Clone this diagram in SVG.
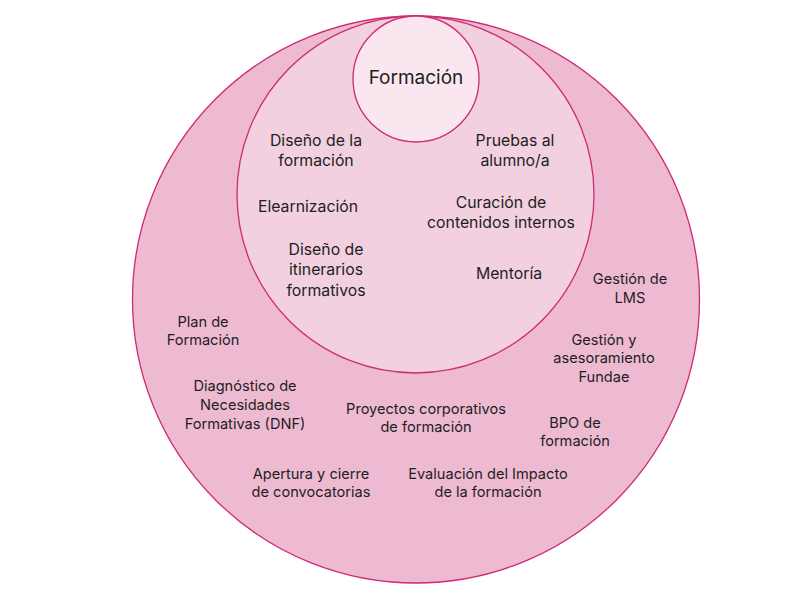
<svg xmlns="http://www.w3.org/2000/svg" width="800" height="600" viewBox="0 0 800 600">
  <style>
    .ring { stroke: #cf2a72; stroke-width: 1.3; }
    .outer { fill: #edbad2; }
    .middle { fill: #f3d0e0; }
    .inner { fill: #f9e6ee; }
    text { font-family: Inter, "Noto Sans", "Liberation Sans", sans-serif; fill: #1e1e1e; text-anchor: middle; }
    .t { font-size: 19px; }
    .m { font-size: 15.8px; }
    .o { font-size: 14.6px; }
  </style>
  <rect width="800" height="600" fill="#ffffff"/>
  <g id="circle-outer">
    <circle class="ring outer" cx="416" cy="299.5" r="283.5"/>
  </g>
  <g id="circle-middle">
    <circle class="ring middle" cx="415.5" cy="194.5" r="178.5"/>
  </g>
  <g id="circle-inner">
    <circle class="ring inner" cx="416" cy="79" r="63"/>
    <text class="t" x="416" y="83.5">Formación</text>
  </g>
  <g id="connectors"></g>
  <g id="middle-labels">
    <g id="diseno-formacion"><text class="m" x="316" y="146">Diseño de la</text><text class="m" x="316" y="166">formación</text></g>
    <g id="pruebas"><text class="m" x="515" y="146">Pruebas al</text><text class="m" x="515" y="166">alumno/a</text></g>
    <g id="elearnizacion"><text class="m" x="308" y="212">Elearnización</text></g>
    <g id="curacion"><text class="m" x="501" y="207.5">Curación de</text><text class="m" x="501" y="227.5">contenidos internos</text></g>
    <g id="itinerarios"><text class="m" x="326" y="254.5">Diseño de</text><text class="m" x="326" y="275">itinerarios</text><text class="m" x="326" y="295.5">formativos</text></g>
    <g id="mentoria"><text class="m" x="509" y="279">Mentoría</text></g>
  </g>
  <g id="outer-labels">
    <g id="lms"><text class="o" x="630" y="284">Gestión de</text><text class="o" x="630" y="303">LMS</text></g>
    <g id="fundae"><text class="o" x="604" y="345">Gestión y</text><text class="o" x="604" y="363">asesoramiento</text><text class="o" x="604" y="382">Fundae</text></g>
    <g id="plan"><text class="o" x="203" y="327">Plan de</text><text class="o" x="203" y="345">Formación</text></g>
    <g id="dnf"><text class="o" x="245" y="391">Diagnóstico de</text><text class="o" x="245" y="410">Necesidades</text><text class="o" x="245" y="428.5">Formativas (DNF)</text></g>
    <g id="proyectos"><text class="o" x="426" y="414">Proyectos corporativos</text><text class="o" x="426" y="432">de formación</text></g>
    <g id="bpo"><text class="o" x="575" y="428">BPO de</text><text class="o" x="575" y="446">formación</text></g>
    <g id="apertura"><text class="o" x="311" y="479">Apertura y cierre</text><text class="o" x="311" y="497">de convocatorias</text></g>
    <g id="evaluacion"><text class="o" x="488" y="479">Evaluación del Impacto</text><text class="o" x="488" y="497">de la formación</text></g>
  </g>
</svg>
